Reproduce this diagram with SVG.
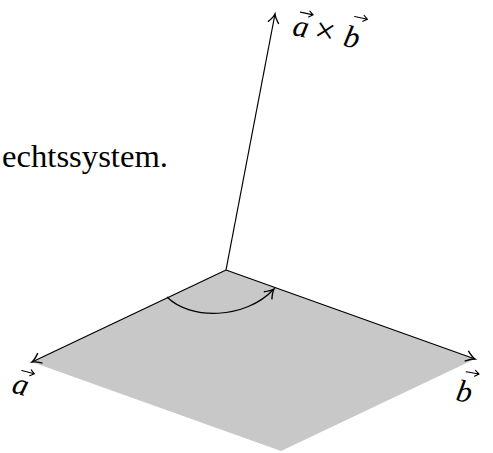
<svg xmlns="http://www.w3.org/2000/svg" width="493" height="453" viewBox="0 0 493 453">
<style>
.edge{stroke:#000;stroke-width:1.2;fill:none}
.vec{stroke:#000;stroke-width:1.1;fill:none;stroke-linecap:round}
.serif{font-family:'Liberation Serif',serif;fill:#000}
.it{font-style:italic}
</style>
<defs>
<marker id="to" markerUnits="userSpaceOnUse" markerWidth="14" markerHeight="14" viewBox="-10 -7 12 14" refX="0" refY="0" orient="auto">
<path d="M-9,-5.5 Q-3.5,-1 0,0 Q-3.5,1 -9,5.5" stroke="#000" stroke-width="1.4" fill="none"/>
</marker>
</defs>
<g id="plane">
<polygon points="226,270 32,362 281,451 475,359" fill="#c8c8c8"/>
</g>
<g id="connectors">
<line class="edge" x1="226" y1="270" x2="32" y2="362" marker-end="url(#to)"/>
<line class="edge" x1="226" y1="270" x2="475" y2="359" marker-end="url(#to)"/>
<line class="edge" x1="226" y1="270" x2="275" y2="14" marker-end="url(#to)"/>
<path class="edge" d="M167,297 C190,320 245,320 274,289" marker-end="url(#to)"/>
</g>
<g id="caption">
<text class="serif" font-size="31" x="2" y="167" textLength="166" lengthAdjust="spacingAndGlyphs">echtssystem.</text>
</g>
<g id="label-axb" class="serif" font-size="31" transform="rotate(12 326 36)">
<text class="it" x="292" y="42">a</text>
<path class="vec" d="M296,18 L309,18 M305,15 L309,18 L305,21"/>
<text x="314" y="43" font-size="36">×</text>
<text class="it" x="344" y="42">b</text>
<path class="vec" d="M350,11 L363,11 M359,8 L363,11 L359,14"/>
</g>
<g id="label-a" class="serif it" font-size="31" transform="rotate(15 22 385)">
<text x="13" y="395">a</text>
<path class="vec" d="M18,371 L31,371 M27,368 L31,371 L27,374"/>
</g>
<g id="label-b" class="serif it" font-size="31" transform="rotate(10 466 390)">
<text x="457" y="402">b</text>
<path class="vec" d="M463,372 L476,372 M472,369 L476,372 L472,375"/>
</g>
</svg>
